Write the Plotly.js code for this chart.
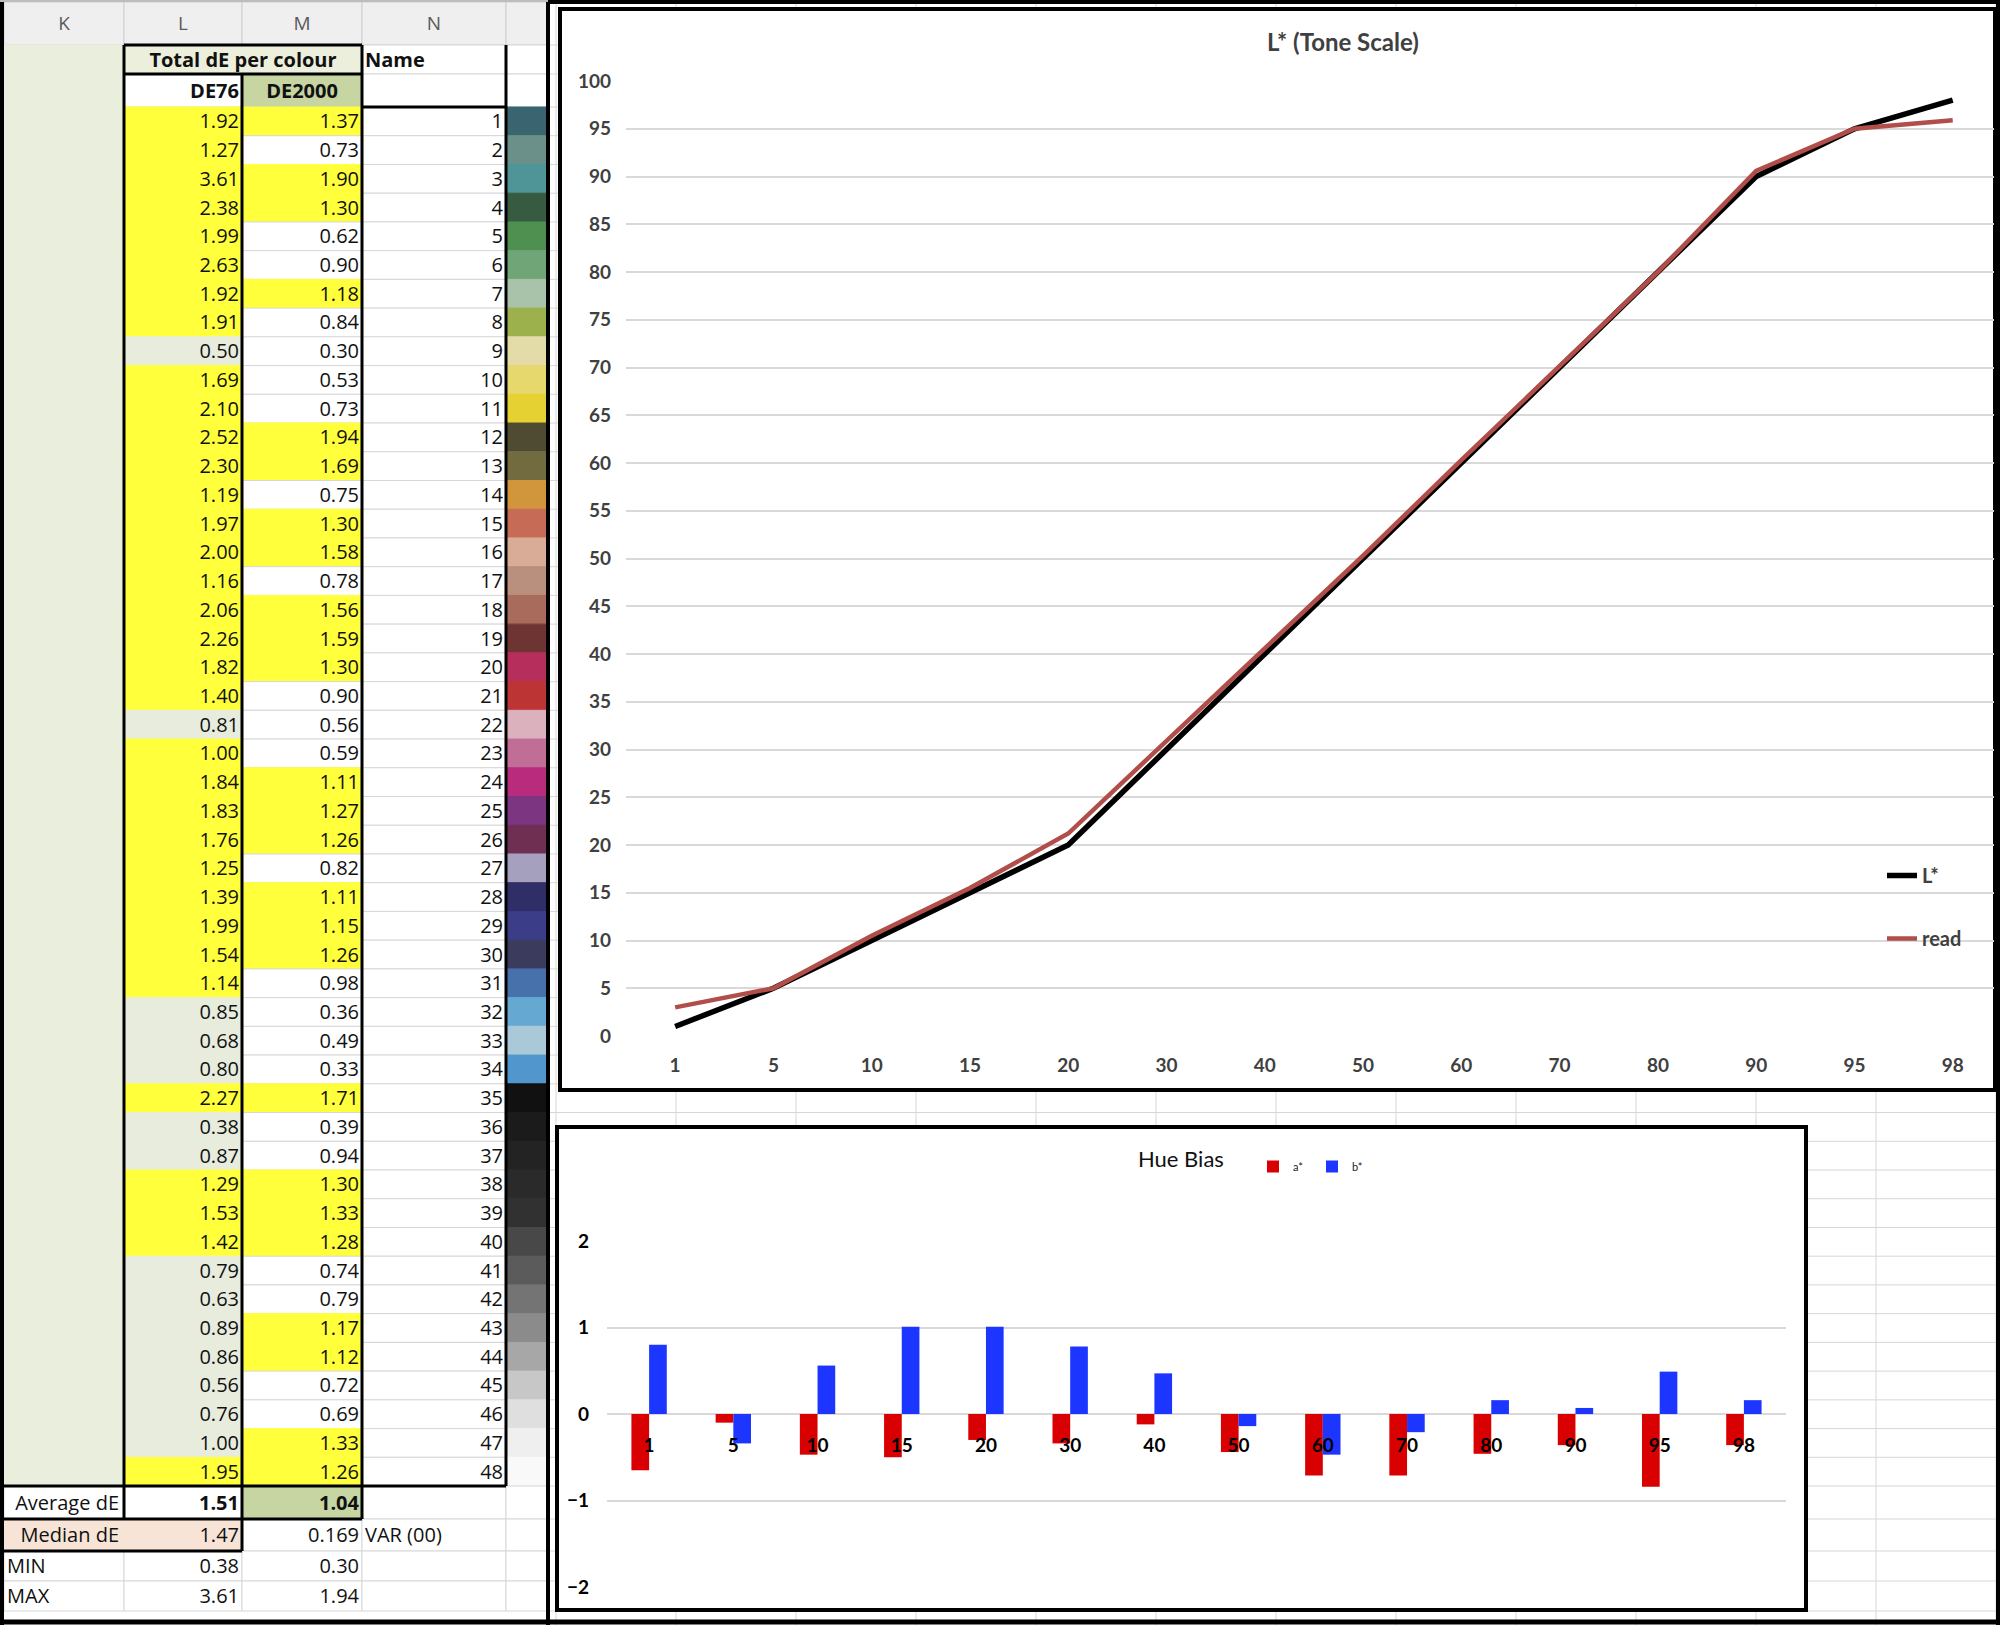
<!DOCTYPE html>
<html><head><meta charset="utf-8">
<script src="https://cdn.plot.ly/plotly-3.0.1.min.js"></script>
<style>html,body{margin:0;padding:0;background:#fff}#chart{width:2000px;height:1625px}</style>
</head><body><div id="chart"></div>
<script>
// ================= DATA =================
const colLetters = ['K', 'L', 'M', 'N'];
const colourIds = [1,2,3,4,5,6,7,8,9,10,11,12,13,14,15,16,17,18,19,20,21,22,23,24,25,26,27,28,29,30,31,32,33,34,35,36,37,38,39,40,41,42,43,44,45,46,47,48];
const de76 = [1.92,1.27,3.61,2.38,1.99,2.63,1.92,1.91,0.50,1.69,2.10,2.52,2.30,1.19,1.97,2.00,1.16,2.06,2.26,1.82,1.40,0.81,1.00,1.84,1.83,1.76,1.25,1.39,1.99,1.54,1.14,0.85,0.68,0.80,2.27,0.38,0.87,1.29,1.53,1.42,0.79,0.63,0.89,0.86,0.56,0.76,1.00,1.95];
const de2000 = [1.37,0.73,1.90,1.30,0.62,0.90,1.18,0.84,0.30,0.53,0.73,1.94,1.69,0.75,1.30,1.58,0.78,1.56,1.59,1.30,0.90,0.56,0.59,1.11,1.27,1.26,0.82,1.11,1.15,1.26,0.98,0.36,0.49,0.33,1.71,0.39,0.94,1.30,1.33,1.28,0.74,0.79,1.17,1.12,0.72,0.69,1.33,1.26];
// conditional-format highlight flags as shown in the sheet
const de76Flag = [1,1,1,1,1,1,1,1,0,1,1,1,1,1,1,1,1,1,1,1,1,0,1,1,1,1,1,1,1,1,1,0,0,0,1,0,0,1,1,1,0,0,0,0,0,0,0,1];
const de2000Flag = [1,0,1,1,0,0,1,0,0,0,0,1,1,0,1,1,0,1,1,1,0,0,0,1,1,1,0,1,1,1,0,0,0,0,1,0,0,1,1,1,0,0,1,1,0,0,1,1];
const swatchColours = ['#3b6471','#6b9089','#4f9598','#365b40','#4f9050','#6fa577','#a9c3aa','#9cb14b','#e3dca9','#e6d86c','#e5d131','#4f4b33','#736b40','#d1953b','#c56b56','#d8ac97','#b98f7d','#a96b5b','#6e3333','#b62e5b','#bc3434','#dab1bd','#c16e97','#b92b7d','#7c3681','#6e2f53','#a4a0be','#2f2e66','#3b3d89','#3a3b5d','#4671ab','#65a9d3','#a9c9d9','#5197cd','#111111','#1b1b1b','#232323','#2a2a2a','#313131','#484848','#5b5b5b','#747474','#8b8b8b','#a7a7a7','#c7c7c7','#dfdfdf','#efefef','#f9f9f9'];
const summaryLabels = ['Average dE', 'Median dE', 'MIN', 'MAX'];
const summaryDE76 = ['1.51', '1.47', '0.38', '3.61'];
const summaryDE2000 = ['1.04', '0.169', '0.30', '1.94'];
const varLabel = 'VAR (00)';

const toneCats = ['1','5','10','15','20','30','40','50','60','70','80','90','95','98'];
const lStar = [1,5,10,15,20,30,40,50,60,70,80,90,95,98];
const lRead = [3,5,10.5,15.5,21.2,30.9,40.5,50.3,60.3,70.2,80,90.6,95,95.9];

const hueCats = ['1','5','10','15','20','30','40','50','60','70','80','90','95','98'];
const aStar = [-0.65,-0.10,-0.47,-0.50,-0.30,-0.34,-0.12,-0.44,-0.71,-0.71,-0.46,-0.36,-0.84,-0.36];
const bStar = [0.80,-0.34,0.56,1.01,1.01,0.78,0.47,-0.14,-0.47,-0.21,0.16,0.07,0.49,0.16];

// ================= LAYOUT GEOMETRY (pixels) =================
const W = 2000, H = 1625;
const xp = v => v / W, yp = v => 1 - v / H;
const colEdges = [4, 124, 242, 362, 506, 547];
const rowTop = [], rowH = [];
function pushRow(t, h) { rowTop.push(t); rowH.push(h); }
pushRow(2, 43); pushRow(45, 29); pushRow(74, 33);
const dataTop = 107, dataH = 28.73;
colourIds.forEach((_, i) => pushRow(dataTop + i * dataH, dataH));
pushRow(1486, 33); pushRow(1519, 32); pushRow(1551, 30); pushRow(1581, 30);
const NR = rowTop.length;
const rowMid = rowTop.map((t, i) => t + rowH[i] / 2);
const textMid = rowMid.map(v => v + 2);
const rowBounds = rowTop.concat([rowTop[NR - 1] + rowH[NR - 1]]);

const C = {hdr:'#efefef', hdrLine:'#cfcfcf', kGreen:'#eaefdd', box:'#ecefdc', olive:'#c6d5a1',
  yellow:'#ffff3c', lGrey:'#e8ecdd', white:'#ffffff', grid:'#d7d7d7', peach:'#f8e4d6'};

// fills per column
const fills = [[], [], [], [], []];
const lines = [[], [], [], [], []];
function setCell(c, f, l) { fills[c].push(f); lines[c].push(l || (f === C.white ? C.grid : f)); }
for (let c = 0; c < 5; c++) setCell(c, C.hdr, C.hdrLine);
setCell(0, C.kGreen); setCell(1, C.box); setCell(2, C.box); setCell(3, C.white); setCell(4, C.white);
setCell(0, C.kGreen); setCell(1, C.white); setCell(2, C.olive); setCell(3, C.white); setCell(4, C.white);
colourIds.forEach((_, i) => {
  setCell(0, C.kGreen);
  setCell(1, de76Flag[i] ? C.yellow : C.lGrey);
  setCell(2, de2000Flag[i] ? C.yellow : C.white);
  setCell(3, C.white);
  setCell(4, swatchColours[i]);
});
// summary rows
setCell(0, C.white); setCell(1, C.white); setCell(2, C.olive); setCell(3, C.white); setCell(4, C.white);
setCell(0, C.peach); setCell(1, C.peach); setCell(2, C.white); setCell(3, C.white); setCell(4, C.white);
for (let k = 0; k < 2; k++) { setCell(0, C.white); setCell(1, C.white); setCell(2, C.white); setCell(3, C.white); setCell(4, C.white); }

const traces = [];
for (let c = 0; c < 5; c++) {
  traces.push({
    type: 'bar', orientation: 'h', xaxis: 'x', yaxis: 'y',
    y: rowMid, x: rowMid.map(() => colEdges[c + 1] - colEdges[c]), base: colEdges[c],
    width: rowH, marker: {color: fills[c], line: {color: lines[c], width: 1}},
    hoverinfo: 'skip', showlegend: false
  });
}

// table texts
const items = [];
function addT(x, y, t, pos, bold, color, size) { items.push({x, y, t, pos, bold: !!bold, color: color || '#111', size: size || 20}); }
colLetters.forEach((L, c) => addT((colEdges[c] + colEdges[c + 1]) / 2, textMid[0], L, 'middle center', false, '#5a5a5a', 19));
addT((colEdges[1] + colEdges[3]) / 2, textMid[1], 'Total dE per colour', 'middle center', true);
addT(colEdges[3] + 3, textMid[1], 'Name', 'middle right', true);
addT(colEdges[2] - 3, textMid[2], 'DE76', 'middle left', true);
addT((colEdges[2] + colEdges[3]) / 2, textMid[2], 'DE2000', 'middle center', true);
colourIds.forEach((id, i) => {
  const r = 3 + i;
  addT(colEdges[2] - 3, textMid[r], de76[i].toFixed(2), 'middle left');
  addT(colEdges[3] - 3, textMid[r], de2000[i].toFixed(2), 'middle left');
  addT(colEdges[4] - 3, textMid[r], String(id), 'middle left');
});
const sr = 3 + colourIds.length;
summaryLabels.forEach((lab, k) => {
  const r = sr + k;
  if (k < 2) addT(colEdges[1] - 5, textMid[r], lab, 'middle left');
  else addT(colEdges[0] + 3, textMid[r], lab, 'middle right');
  addT(colEdges[2] - 3, textMid[r], summaryDE76[k], 'middle left', k === 0);
  addT(colEdges[3] - 3, textMid[r], summaryDE2000[k], 'middle left', k === 0);
});
addT(colEdges[3] + 3, textMid[sr + 1], varLabel, 'middle right');

const groups = {};
items.forEach(it => { const key = it.bold + '|' + it.color + '|' + it.size; (groups[key] = groups[key] || []).push(it); });
Object.values(groups).forEach(g => {
  traces.push({
    type: 'scatter', mode: 'text', xaxis: 'x', yaxis: 'y', cliponaxis: false,
    x: g.map(d => d.x), y: g.map(d => d.y), text: g.map(d => d.t), textposition: g.map(d => d.pos),
    textfont: {family: 'Open Sans, sans-serif', size: g[0].size, color: g[0].color, weight: g[0].bold ? 700 : 400},
    hoverinfo: 'skip', showlegend: false
  });
});

// ---- line chart ----
traces.push({type: 'scatter', mode: 'lines', x: toneCats, y: lStar, xaxis: 'x2', yaxis: 'y2', name: 'L*',
  line: {color: '#000000', width: 5.5}, legend: 'legend', legendgroup: 'g1', hoverinfo: 'x+y'});
traces.push({type: 'scatter', mode: 'lines', x: toneCats, y: lRead, xaxis: 'x2', yaxis: 'y2', name: 'read',
  line: {color: '#b24e4a', width: 4.5}, legend: 'legend', legendgroup: 'g2', hoverinfo: 'x+y'});

// ---- hue bias bars ----
traces.push({type: 'bar', x: hueCats, y: aStar, xaxis: 'x3', yaxis: 'y3', name: 'a*', offset: -0.21, width: 0.21,
  marker: {color: '#d80000'}, legend: 'legend2'});
traces.push({type: 'bar', x: hueCats, y: bStar, xaxis: 'x3', yaxis: 'y3', name: 'b*', offset: 0, width: 0.21,
  marker: {color: '#1c36ff'}, legend: 'legend2'});

// ================= SHAPES =================
const shapes = [];
// spreadsheet grid to the right of the table
rowBounds.forEach(y => shapes.push({type: 'line', xref: 'paper', yref: 'paper', layer: 'below',
  x0: xp(550), x1: xp(2000), y0: yp(y), y1: yp(y), line: {color: C.grid, width: 1}}));
for (let x = 556; x <= 1996; x += 120) shapes.push({type: 'line', xref: 'paper', yref: 'paper', layer: 'below',
  x0: xp(x), x1: xp(x), y0: yp(0), y1: yp(H), line: {color: C.grid, width: 1}});
// chart frames
shapes.push({type: 'rect', xref: 'paper', yref: 'paper', layer: 'below', x0: xp(560), x1: xp(1995), y0: yp(9), y1: yp(1090),
  fillcolor: '#ffffff', line: {color: '#000', width: 4}});
shapes.push({type: 'rect', xref: 'paper', yref: 'paper', layer: 'below', x0: xp(557), x1: xp(1806), y0: yp(1127), y1: yp(1610),
  fillcolor: '#ffffff', line: {color: '#000', width: 4}});
// table thick borders
function bl(x0, y0, x1, y1, w) { shapes.push({type: 'line', xref: 'x', yref: 'y', layer: 'above', x0, y0, x1, y1, line: {color: '#000', width: w || 3}}); }
bl(colEdges[1], rowTop[1], colEdges[1], rowBounds[sr + 1]);
bl(colEdges[2], rowTop[2], colEdges[2], rowBounds[sr + 2]);
bl(colEdges[3], rowTop[1], colEdges[3], rowBounds[sr + 1]);
bl(colEdges[4], rowTop[1], colEdges[4], rowBounds[sr]);
bl(colEdges[1], rowTop[1], colEdges[3], rowTop[1]);
bl(colEdges[1], rowTop[2], colEdges[3], rowTop[2]);
bl(colEdges[3], rowTop[3], colEdges[4], rowTop[3]);
bl(0, rowBounds[sr], colEdges[4], rowBounds[sr]);
bl(0, rowBounds[sr + 1], colEdges[3], rowBounds[sr + 1]);
bl(0, rowBounds[sr + 2], colEdges[2], rowBounds[sr + 2]);
// outer frame
function pl(x0, y0, x1, y1, w, col) { shapes.push({type: 'line', xref: 'paper', yref: 'paper', layer: 'above',
  x0: xp(x0), y0: yp(y0), x1: xp(x1), y1: yp(y1), line: {color: col || '#000', width: w}}); }
pl(2, 0, 2, H, 4);
pl(0, 1622, W, 1622, 5);
pl(1998, 0, 1998, H, 4);
pl(548, 2, W, 2, 4);
pl(548, 0, 548, H, 4);
pl(0, 1, 548, 1, 2, '#bdbdbd');

// ================= LAYOUT =================
const tickFontLine = {family: 'Lato, sans-serif', size: 19, color: '#404040', weight: 700};
const tickFontBar = {family: 'Lato, sans-serif', size: 19, color: '#000', weight: 700};
const layout = {
  width: W, height: H, margin: {l: 0, r: 0, t: 0, b: 0}, paper_bgcolor: '#ffffff', plot_bgcolor: 'rgba(0,0,0,0)',
  barmode: 'overlay', hovermode: 'closest',
  xaxis: {domain: [0, xp(550)], range: [0, 550], visible: false, fixedrange: true},
  yaxis: {domain: [0, 1], range: [H, 0], visible: false, fixedrange: true},
  xaxis2: {domain: [xp(626), xp(1994)], anchor: 'y2', type: 'category', range: [-0.5, 13.42], showgrid: false,
    zeroline: false, showline: false, ticks: '', tickfont: tickFontLine, ticklabelstandoff: 16, fixedrange: true},
  yaxis2: {domain: [yp(1036), yp(81)], anchor: 'x2', range: [0, 100], dtick: 5, showgrid: true, gridcolor: '#d9d9d9',
    gridwidth: 1.5, zeroline: false, showline: false, ticks: '', tickfont: tickFontLine, ticklabelstandoff: 14, fixedrange: true},
  xaxis3: {domain: [xp(607), xp(1786)], anchor: 'free', position: yp(1414), type: 'category', range: [-0.5, 13.5],
    showgrid: false, zeroline: false, showline: false, ticks: '', tickfont: tickFontBar, ticklabelstandoff: 18, fixedrange: true},
  yaxis3: {domain: [yp(1587), yp(1241)], anchor: 'x3', range: [-2, 2], dtick: 1, showgrid: true, gridcolor: '#d9d9d9',
    gridwidth: 1.5, zeroline: false, showline: false, ticks: '', tickfont: tickFontBar, ticklabelstandoff: 17, fixedrange: true},
  legend: {x: xp(1882), y: yp(856), xanchor: 'left', yanchor: 'top', bgcolor: 'rgba(0,0,0,0)', traceorder: 'grouped',
    tracegroupgap: 34, itemwidth: 30, font: {family: 'Lato, sans-serif', size: 20, color: '#404040', weight: 700}},
  legend2: {x: xp(1253), y: yp(1152), xanchor: 'left', yanchor: 'top', orientation: 'h', bgcolor: 'rgba(0,0,0,0)',
    itemwidth: 30, entrywidth: 14, entrywidthmode: 'pixels', font: {family: 'Lato, sans-serif', size: 11, color: '#222'}},
  annotations: [
    {text: 'L* (Tone Scale)', xref: 'paper', yref: 'paper', x: xp(1343), y: yp(41), showarrow: false,
      xanchor: 'center', yanchor: 'middle', font: {family: 'Lato, sans-serif', size: 24, color: '#404040', weight: 700}},
    {text: 'Hue Bias', xref: 'paper', yref: 'paper', x: xp(1181), y: yp(1158), showarrow: false,
      xanchor: 'center', yanchor: 'middle', font: {family: 'Lato, sans-serif', size: 22, color: '#111'}}
  ],
  shapes: shapes
};
Plotly.newPlot('chart', traces, layout, {displayModeBar: false, staticPlot: false});
</script>
</body></html>
